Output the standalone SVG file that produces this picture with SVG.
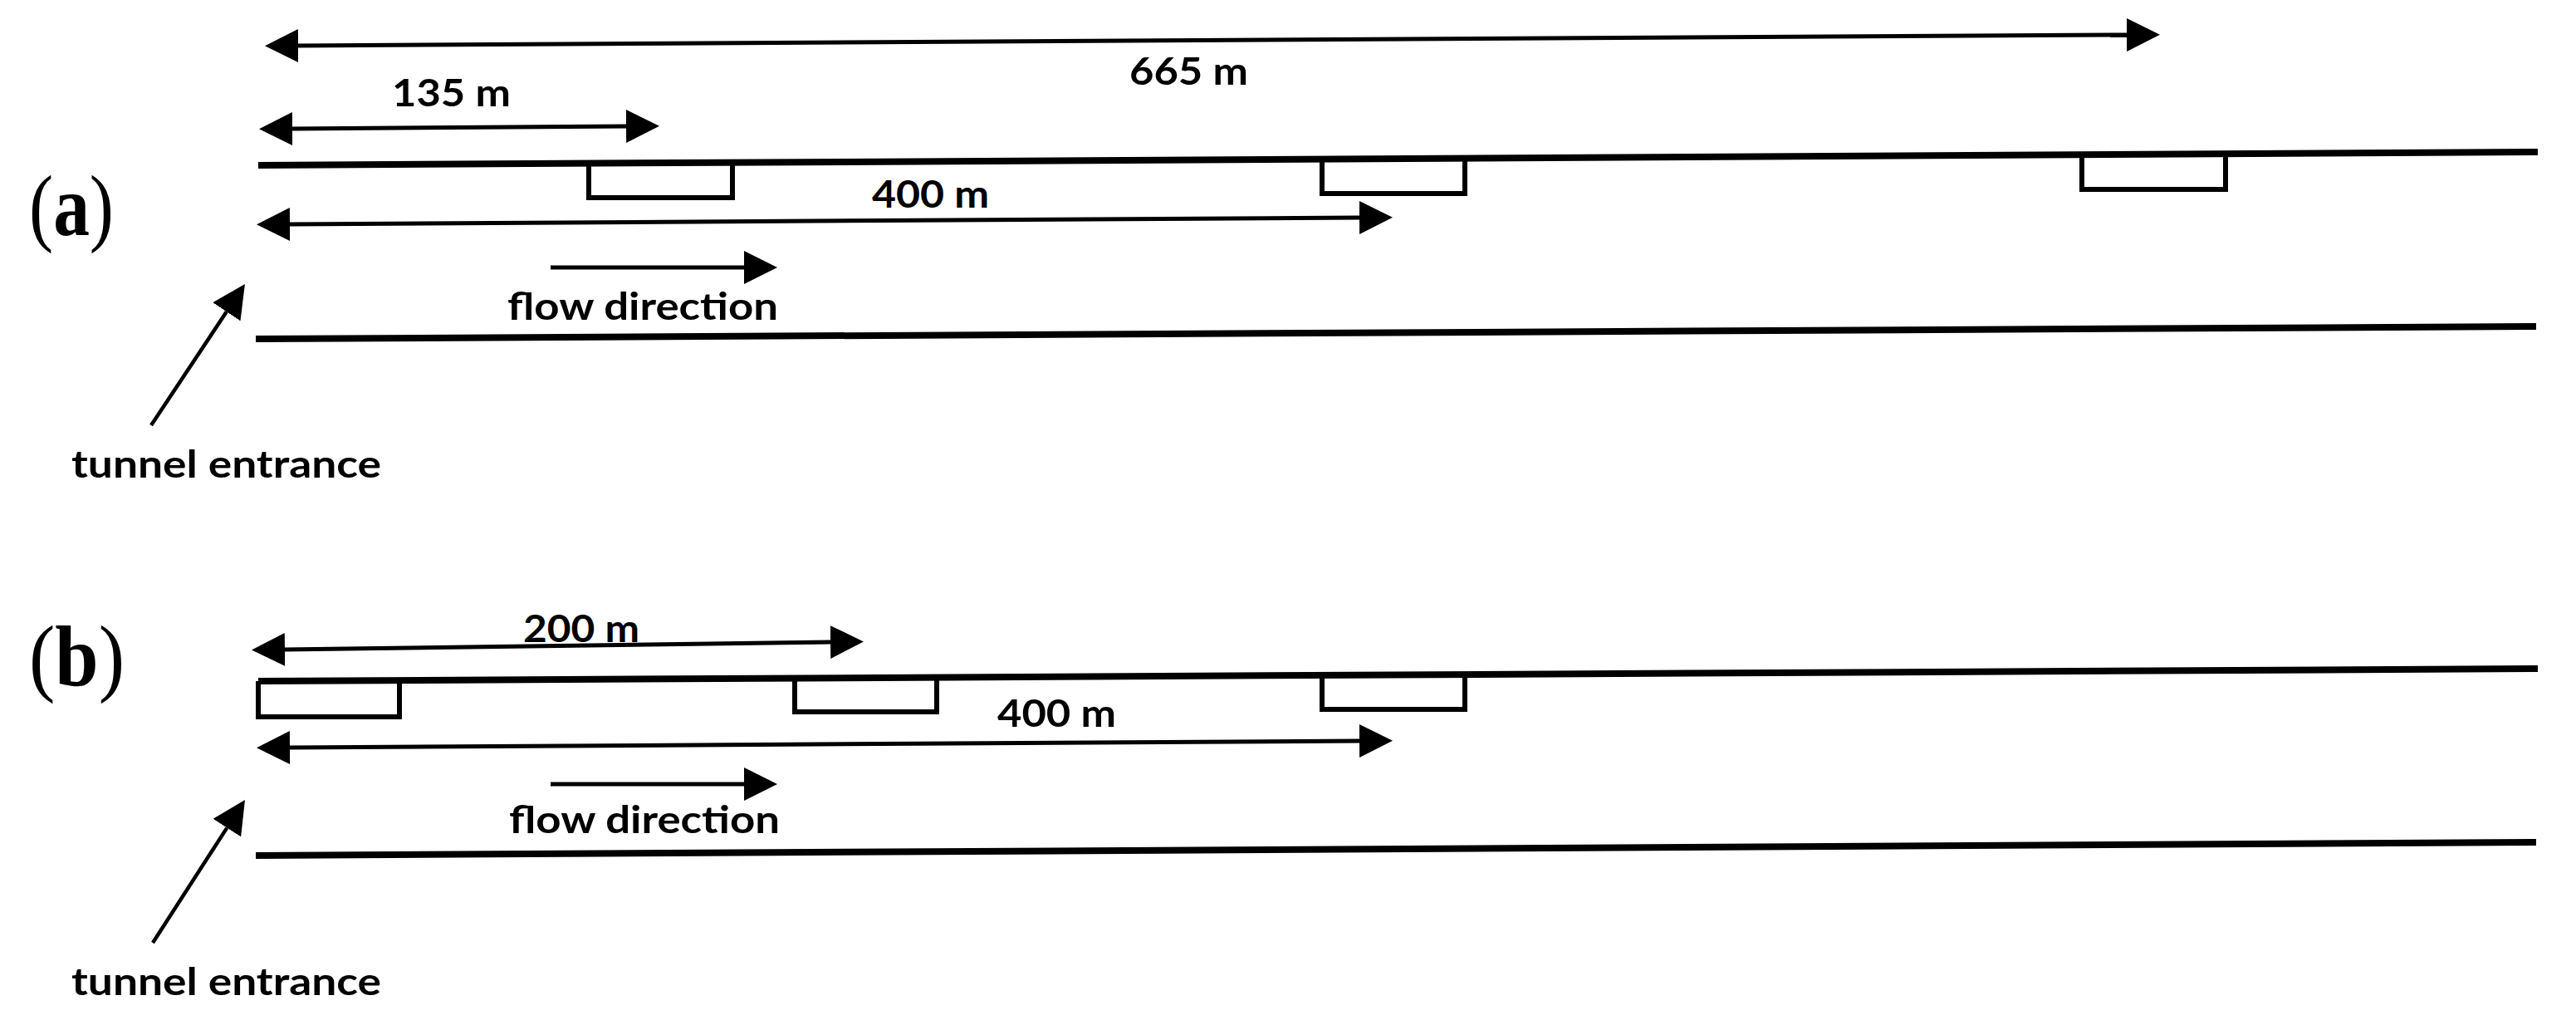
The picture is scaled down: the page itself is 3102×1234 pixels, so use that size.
<svg xmlns="http://www.w3.org/2000/svg" width="3102" height="1234" viewBox="0 0 3102 1234">
<style>
.wall{stroke:#000;stroke-width:8;fill:none}
.box{stroke:#000;stroke-width:6;fill:none}
.dim{stroke:#000;stroke-width:5;fill:none;marker-start:url(#ah);marker-end:url(#ah)}
.one{stroke:#000;stroke-width:5;fill:none;marker-end:url(#ah)}
.lbl{font-family:Lato,"Liberation Sans",sans-serif;font-weight:700;font-size:46px;fill:#000}
.pl{font-family:"Liberation Serif","DejaVu Serif",serif;font-size:104px;fill:#000}
</style>
<defs>
<marker id="ah" markerUnits="userSpaceOnUse" viewBox="0 0 40 40" refX="0" refY="20" markerWidth="40" markerHeight="40" orient="auto-start-reverse"><path d="M0,0 L40,20 L0,40 z" fill="#000"/></marker>
</defs>
<rect width="3102" height="1234" fill="#fff"/>

<g id="panel-a">
  <g id="a-label"><text class="pl" x="35" y="283" textLength="102" lengthAdjust="spacingAndGlyphs">(<tspan font-weight="bold">a</tspan>)</text></g>
  <g id="a-tunnel">
    <line class="wall" x1="311" y1="199" x2="3056" y2="183"/>
    <line class="wall" x1="308" y1="408" x2="3054" y2="393"/>
  </g>
  <g id="a-box1"><path class="box" d="M709,196 V238 H882 V195"/></g>
  <g id="a-box2"><path class="box" d="M1592,191 V233 H1764 V190"/></g>
  <g id="a-box3"><path class="box" d="M2507,186 V228 H2680 V185"/></g>
  <g id="a-texts">
    <text class="lbl" x="1360" y="102" textLength="143" lengthAdjust="spacingAndGlyphs">665 m</text>
    <text class="lbl" x="472" y="128" textLength="143" lengthAdjust="spacingAndGlyphs">135 m</text>
    <text class="lbl" x="1050" y="250" textLength="141" lengthAdjust="spacingAndGlyphs">400 m</text>
    <text class="lbl" x="611" y="385" textLength="326" lengthAdjust="spacingAndGlyphs">flow direction</text>
    <text class="lbl" x="86" y="575" textLength="373" lengthAdjust="spacingAndGlyphs">tunnel entrance</text>
  </g>
</g>

<g id="panel-b">
  <g id="b-label"><text class="pl" x="35" y="825" textLength="115" lengthAdjust="spacingAndGlyphs">(<tspan font-weight="bold">b</tspan>)</text></g>
  <g id="b-tunnel">
    <line class="wall" x1="311" y1="820" x2="3056" y2="805"/>
    <line class="wall" x1="308" y1="1030" x2="3054" y2="1014"/>
  </g>
  <g id="b-box1"><path class="box" d="M311,820 V863 H481 V819"/></g>
  <g id="b-box2"><path class="box" d="M957,816 V857 H1128 V815"/></g>
  <g id="b-box3"><path class="box" d="M1592,813 V854 H1764 V812"/></g>
  <g id="b-texts">
    <text class="lbl" x="630" y="773" textLength="140" lengthAdjust="spacingAndGlyphs">200 m</text>
    <text class="lbl" x="1201" y="875" textLength="143" lengthAdjust="spacingAndGlyphs">400 m</text>
    <text class="lbl" x="613" y="1003" textLength="326" lengthAdjust="spacingAndGlyphs">flow direction</text>
    <text class="lbl" x="86" y="1198" textLength="373" lengthAdjust="spacingAndGlyphs">tunnel entrance</text>
  </g>
</g>

<g id="connectors">
  <line class="dim" x1="359" y1="55" x2="2561" y2="42"/>
  <line class="dim" x1="352" y1="155" x2="754" y2="152"/>
  <line class="dim" x1="349" y1="270" x2="1637" y2="262"/>
  <line class="one" x1="663" y1="322" x2="896" y2="322"/>
  <line class="one" style="stroke-width:4.5" x1="182" y1="512" x2="272.8" y2="375.3"/>
  <line class="dim" x1="343" y1="782" x2="1000" y2="773"/>
  <line class="dim" x1="349" y1="900" x2="1637" y2="892"/>
  <line class="one" x1="663" y1="944" x2="896" y2="944"/>
  <line class="one" style="stroke-width:4.5" x1="184" y1="1135" x2="273.3" y2="996.6"/>
</g>
</svg>
